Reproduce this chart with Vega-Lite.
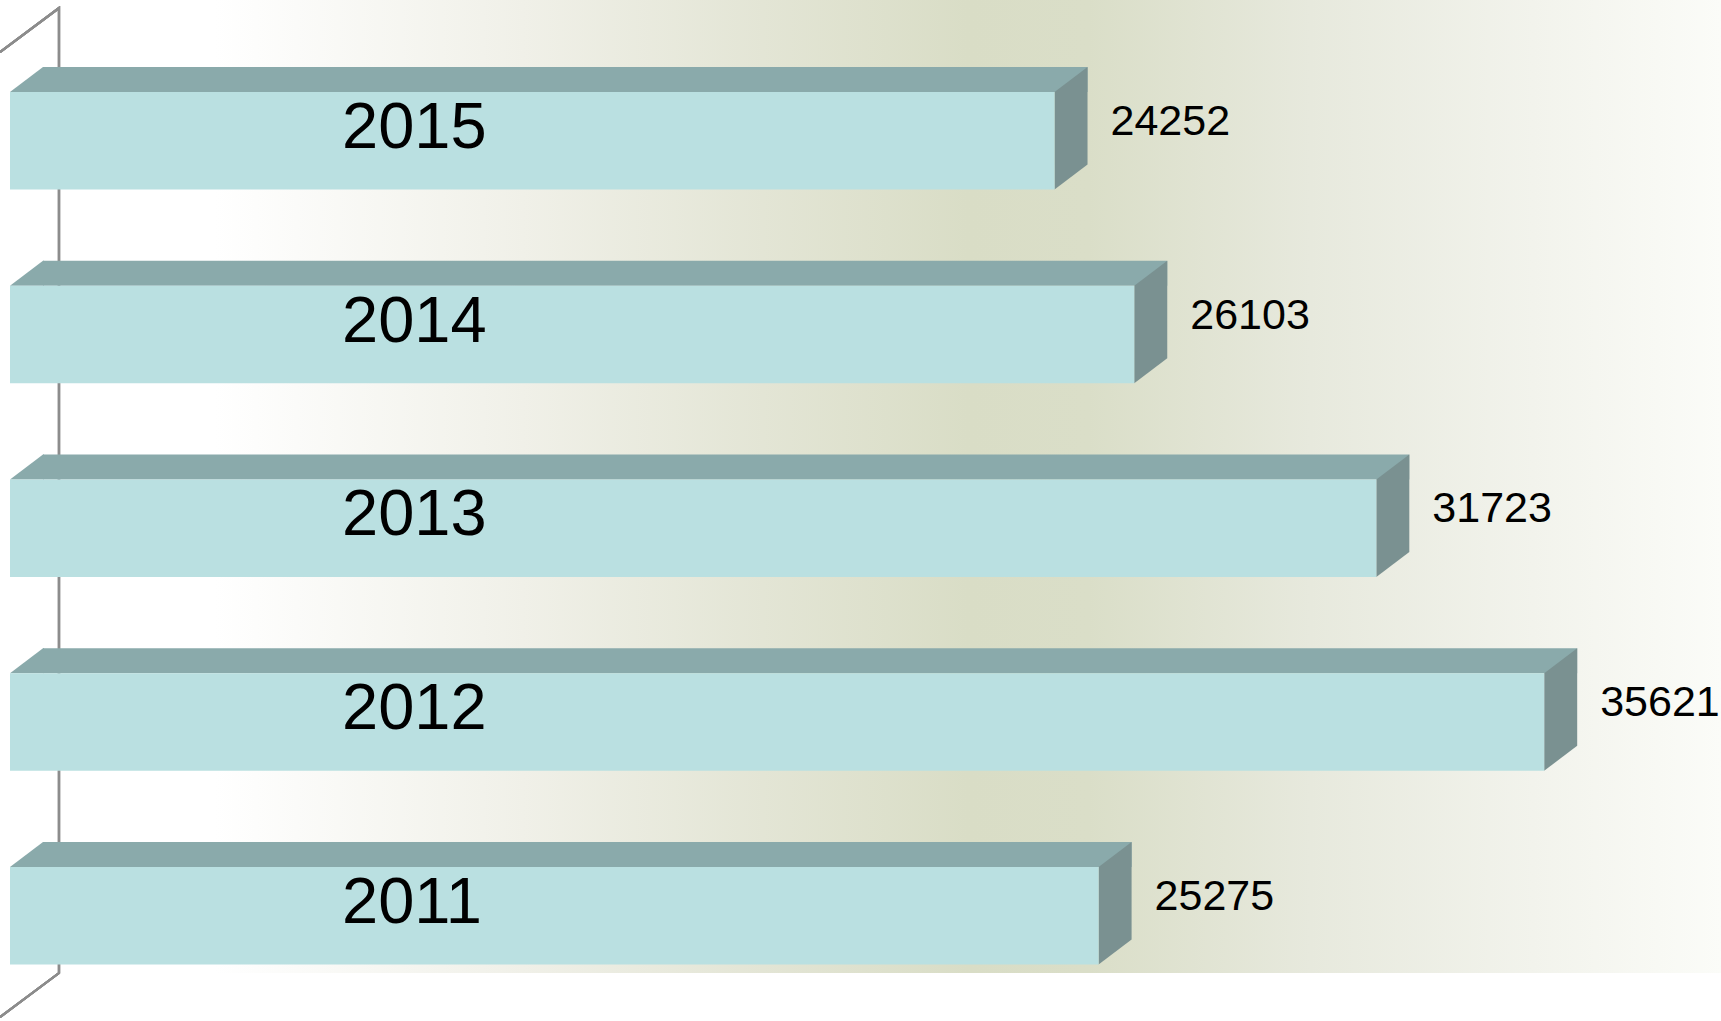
{
  "$schema": "https://vega.github.io/schema/vega-lite/v6.json",
  "autosize": {"type": "none"},
  "padding": {"left": 10, "top": 0, "right": 0, "bottom": 48},
  "width": 1711,
  "height": 973,
  "background": "#ffffff",
  "config": {"view": {"stroke": null}},
  "data": {"values": [
    {"year": 2015, "value": 24252},
    {"year": 2014, "value": 26103},
    {"year": 2013, "value": 31723},
    {"year": 2012, "value": 35621},
    {"year": 2011, "value": 25275}
  ]},
  "encoding": {
    "y": {"field": "year", "type": "ordinal", "axis": null,
      "scale": {"domain": [2015, 2014, 2013, 2012, 2011], "paddingInner": 0.4968, "paddingOuter": 0.2594, "align": 0.9154}}
  },
  "layer": [
    {
      "mark": {"type": "rect", "fill": {"gradient": "linear", "x1": 0, "x2": 1, "y1": 0, "y2": 0,
        "stops": [
          {"offset": 0, "color": "#ffffff"},
          {"offset": 0.12, "color": "#ffffff"},
          {"offset": 0.3, "color": "#f0f0e8"},
          {"offset": 0.44, "color": "#e3e5d5"},
          {"offset": 0.56, "color": "#d9ddc6"},
          {"offset": 0.63, "color": "#dadec8"},
          {"offset": 0.76, "color": "#e7e9dd"},
          {"offset": 0.89, "color": "#f2f3ec"},
          {"offset": 1, "color": "#fbfcf8"}
        ]}},
      "encoding": {
        "x": {"datum": 0, "type": "quantitative", "scale": {"domain": [0, 39726], "nice": false, "zero": true}, "axis": null},
        "x2": {"datum": 39726},
        "y": null
      }
    },
    {
      "mark": {"type": "point", "shape": "M-10,-88.75L49,-132.75L49,832.25L-10,876.25", "size": 4, "filled": false, "stroke": "#8c8c8c", "strokeWidth": 2.2, "opacity": 1, "fill": null},
      "encoding": {
        "x": {"datum": 0, "type": "quantitative"},
        "y": {"datum": 2015, "type": "ordinal"}
      }
    },
    {
      "mark": {"type": "bar", "color": "#8aaaab", "height": 25, "yOffset": -61.25, "xOffset": 33, "x2Offset": 33},
      "encoding": {
        "x": {"field": "value", "type": "quantitative"}
      }
    },
    {
      "mark": {"type": "point", "shape": "M0,-48.75L33,-73.75L34,-73.75L34,-48.75Z", "size": 4, "filled": true, "color": "#8aaaab", "opacity": 1, "strokeWidth": 0},
      "encoding": {
        "x": {"datum": 0, "type": "quantitative"}
      }
    },
    {
      "mark": {"type": "point", "shape": "M0,-48.75L33,-73.75L33,23.75L0,48.75Z", "size": 4, "filled": true, "color": "#7a9191", "opacity": 1, "strokeWidth": 0},
      "encoding": {
        "x": {"field": "value", "type": "quantitative"}
      }
    },
    {
      "mark": {"type": "bar", "color": "#bae0e1"},
      "encoding": {
        "x": {"field": "value", "type": "quantitative"}
      }
    },
    {
      "mark": {"type": "text", "font": "Liberation Sans", "fontSize": 65, "align": "left", "baseline": "middle", "dx": 332, "dy": -13, "color": "#000000"},
      "encoding": {
        "x": {"datum": 0, "type": "quantitative"},
        "text": {"field": "year", "type": "ordinal"}
      }
    },
    {
      "mark": {"type": "text", "font": "Liberation Sans", "fontSize": 43, "align": "left", "baseline": "middle", "dx": 56, "dy": -19, "color": "#000000"},
      "encoding": {
        "x": {"field": "value", "type": "quantitative"},
        "text": {"field": "value", "type": "quantitative", "format": "d"}
      }
    }
  ]
}
